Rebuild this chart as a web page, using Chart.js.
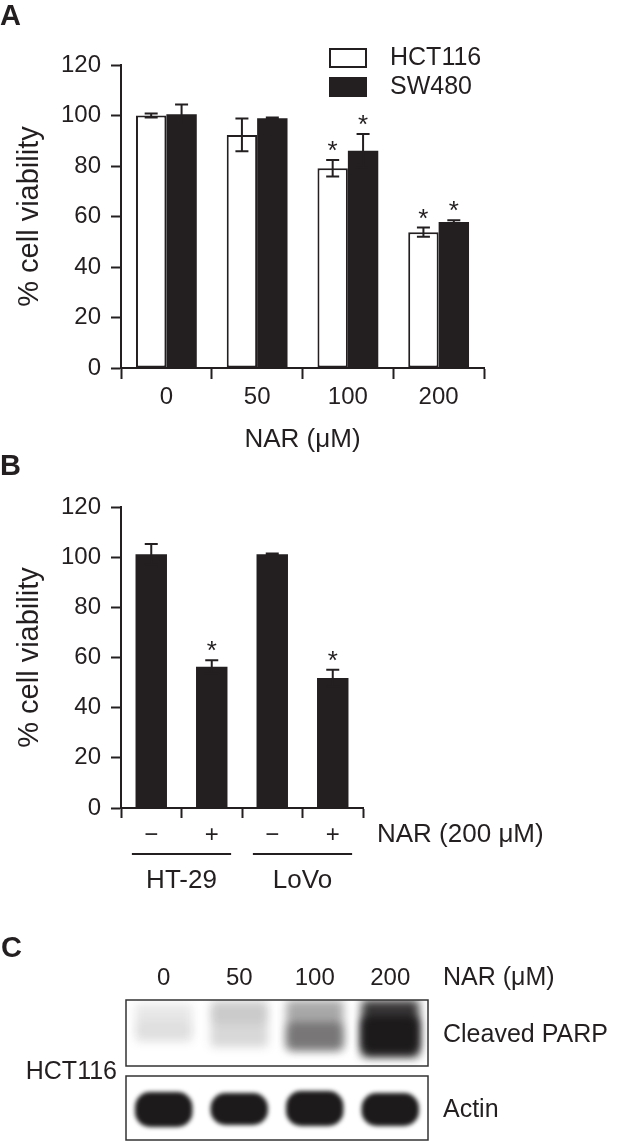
<!DOCTYPE html>
<html>
<head>
<meta charset="utf-8">
<script src="https://cdn.jsdelivr.net/npm/chart.js@4.4.0/dist/chart.umd.min.js"></script>
<style>
  body { margin: 0; background: #fff; }
  #page { position: relative; width: 618px; height: 1142px; overflow: hidden; font-family: "Liberation Sans", Arial, sans-serif; color: #231f20; }
  .panel { position: absolute; left: 0; width: 618px; }
  .tag { position: absolute; font-weight: bold; font-size: 29px; line-height: 1; }
</style>
</head>
<body>
<div id="page">
  <div class="panel" style="top:0; height:460px;"><canvas id="chartA"></canvas></div>
  <div class="panel" style="top:440px; height:460px;"><canvas id="chartB"></canvas></div>
  <div class="panel" style="top:940px; height:240px;"><canvas id="chartC"></canvas></div>
  <div class="tag" style="left:0; top:1px;">A</div>
  <div class="tag" style="left:0; top:451px;">B</div>
  <div class="tag" style="left:1px; top:933px;">C</div>
</div>
<script>
// panel A: viability vs naringenin dose
const doseLabels = ['0', '50', '100', '200'];
const hct116Viability = [100.0, 92.3, 79.1, 53.8];
const hct116Error = [0.8, 6.5, 3.3, 1.8];
const hct116Star = [false, false, true, true];
const sw480Viability = [100.5, 98.9, 86.0, 57.8];
const sw480Error = [3.9, 0.3, 6.7, 0.7];
const sw480Star = [false, false, true, true];
const viabilityTicks = [0, 20, 40, 60, 80, 100, 120];

// panel B: HT-29 / LoVo at 200 uM
const treatLabels = ['\u2212', '+', '\u2212', '+'];
const lineLabels = ['HT-29', 'LoVo'];
const lineViability = [101.2, 56.3, 101.2, 51.8];
const lineError = [4.0, 2.6, 0.3, 3.3];
const lineStar = [false, true, false, true];

// panel C: western blot lanes (band extents in migration units, density 0-1)
const laneLabels = ['0', '50', '100', '200'];
const blotNames = ['Cleaved PARP', 'Actin'];
const blotNameAt = [35, 110];
const parpSmear = [[4, 42], [0, 47], [0, 50], [0, 57]];
const parpSmearDensity = [0.1, 0.17, 0.38, 0.88];
const parpBand = [[20, 40], [4, 24], [22, 51], [16, 53]];
const parpBandDensity = [0.04, 0.07, 0.35, 1];
const actinBand = [[92, 127], [93, 125], [91, 126], [93, 126]];
const actinDensity = [1, 1, 1, 1];

const ink = '#231f20';
const fontFamily = '"Liberation Sans", Arial, sans-serif';
Chart.defaults.font.family = fontFamily;
Chart.defaults.color = ink;

const errorBarPlugin = {
  id: 'errorBars',
  afterDatasetsDraw(chart) {
    const ctx = chart.ctx;
    const y = chart.scales.y;
    ctx.save();
    ctx.strokeStyle = ink;
    ctx.fillStyle = ink;
    ctx.lineWidth = 2;
    ctx.font = '26px ' + fontFamily;
    ctx.textAlign = 'center';
    ctx.textBaseline = 'alphabetic';
    chart.data.datasets.forEach((ds, i) => {
      chart.getDatasetMeta(i).data.forEach((bar, j) => {
        const top = y.getPixelForValue(ds.data[j] + ds.errors[j]);
        const bot = y.getPixelForValue(ds.data[j] - ds.errors[j]);
        ctx.beginPath();
        ctx.moveTo(bar.x, top); ctx.lineTo(bar.x, bot);
        ctx.moveTo(bar.x - 6.5, top); ctx.lineTo(bar.x + 6.5, top);
        ctx.moveTo(bar.x - 6.5, bot); ctx.lineTo(bar.x + 6.5, bot);
        ctx.stroke();
        if (ds.stars[j]) ctx.fillText('*', bar.x, top - 1);
      });
    });
    ctx.restore();
  }
};

function viabilityAxis() {
  return {
    min: 0, max: 120,
    afterBuildTicks: s => { s.ticks = viabilityTicks.map(v => ({ value: v })); },
    afterFit: s => { s.width = 121; },
    grid: { drawOnChartArea: false, tickLength: 10, tickWidth: 2, tickColor: ink },
    border: { color: ink, width: 2 },
    ticks: { font: { size: 24 }, padding: 10, color: ink },
    title: { display: true, text: '% cell viability', font: { size: 29 }, padding: { top: 13, bottom: 0 }, color: ink }
  };
}

// ---- A ----
new Chart(document.getElementById('chartA'), {
  type: 'bar',
  data: {
    labels: doseLabels,
    datasets: [
      { label: 'HCT116', data: hct116Viability, errors: hct116Error, stars: hct116Star,
        backgroundColor: '#ffffff', borderColor: ink, borderWidth: 2, borderSkipped: false },
      { label: 'SW480', data: sw480Viability, errors: sw480Error, stars: sw480Star,
        backgroundColor: ink, borderColor: ink, borderWidth: 0 }
    ]
  },
  options: {
    responsive: true, maintainAspectRatio: false, animation: false,
    layout: { padding: { left: 0, top: 65, right: 134, bottom: 2 } },
    datasets: { bar: { categoryPercentage: 0.67, barPercentage: 1 } },
    plugins: {
      legend: { display: false }, tooltip: { enabled: false },
      boxLegend: { x: 329, top: 48, step: 29 }
    },
    scales: {
      x: {
        afterFit: s => { s.height = 90; },
        grid: { drawOnChartArea: false, tickLength: 11, tickWidth: 2, tickColor: ink },
        border: { color: ink, width: 2 },
        ticks: { font: { size: 24 }, padding: 4, color: ink },
        title: { display: true, text: 'NAR (\u03bcM)', font: { size: 26 }, padding: { top: 0, bottom: 3 }, color: ink }
      },
      y: viabilityAxis()
    }
  },
  plugins: [errorBarPlugin, {
    id: 'boxLegend',
    afterDraw(chart, args, opts) {
      const ctx = chart.ctx;
      ctx.save();
      chart.data.datasets.forEach((ds, i) => {
        const top = opts.top + i * opts.step;
        ctx.fillStyle = ds.backgroundColor;
        ctx.fillRect(opts.x, top, 38, 20);
        ctx.strokeStyle = ink; ctx.lineWidth = 2;
        ctx.strokeRect(opts.x + 1, top + 1, 36, 18);
        ctx.fillStyle = ink;
        ctx.font = '25px ' + fontFamily;
        ctx.textBaseline = 'middle';
        ctx.fillText(ds.label, opts.x + 61, top + 10);
      });
      ctx.restore();
    }
  }]
});

// ---- B ----
new Chart(document.getElementById('chartB'), {
  type: 'bar',
  data: {
    labels: treatLabels,
    datasets: [
      { label: 'viability', data: lineViability, errors: lineError, stars: lineStar,
        backgroundColor: ink, borderWidth: 0 }
    ]
  },
  options: {
    responsive: true, maintainAspectRatio: false, animation: false,
    layout: { padding: { left: 0, top: 67, right: 255, bottom: 2 } },
    datasets: { bar: { categoryPercentage: 1, barPercentage: 0.52 } },
    plugins: { legend: { display: false }, tooltip: { enabled: false } },
    scales: {
      x: {
        weight: 0,
        afterFit: s => { s.height = 40; },
        grid: { drawOnChartArea: false, tickLength: 10, tickWidth: 2, tickColor: ink },
        border: { color: ink, width: 2 },
        ticks: { font: { size: 24 }, padding: 3, color: ink }
      },
      x2: {
        type: 'category', position: 'bottom', weight: 1, offset: true,
        labels: lineLabels,
        afterFit: s => { s.height = 50; },
        grid: { display: false, drawTicks: false },
        border: { display: false },
        ticks: { font: { size: 26 }, padding: 17, color: ink }
      },
      y: viabilityAxis()
    }
  },
  plugins: [errorBarPlugin, {
    id: 'groupLines',
    afterDraw(chart) {
      const ctx = chart.ctx;
      const x = chart.scales.x, x2 = chart.scales.x2;
      const half = (x2.right - x2.left) / lineLabels.length * 0.41;
      ctx.save();
      ctx.strokeStyle = ink; ctx.lineWidth = 2;
      lineLabels.forEach((l, i) => {
        const cx = x2.getPixelForTick(i);
        ctx.beginPath();
        ctx.moveTo(cx - half, x2.top + 6); ctx.lineTo(cx + half, x2.top + 6);
        ctx.stroke();
      });
      ctx.fillStyle = ink;
      ctx.font = '26px ' + fontFamily;
      ctx.textBaseline = 'middle';
      ctx.fillText('NAR (200 \u03bcM)', x.right + 14, chart.chartArea.bottom + 27);
      ctx.restore();
    }
  }]
});

// ---- C ----
const shade = d => d.map(a => 'rgba(28,26,27,' + a + ')');
const blotFrames = [[0, 66], [76, 140]];
new Chart(document.getElementById('chartC'), {
  type: 'bar',
  data: {
    labels: laneLabels,
    datasets: [
      { label: 'PARP band', data: parpBand, backgroundColor: shade(parpBandDensity), blur: 4, borderRadius: 8 },
      { label: 'PARP smear', data: parpSmear, backgroundColor: shade(parpSmearDensity), blur: 5, borderRadius: 4 },
      { label: 'Actin', data: actinBand, backgroundColor: shade(actinDensity), blur: 2, borderRadius: 15 }
    ]
  },
  options: {
    responsive: true, maintainAspectRatio: false, animation: false,
    layout: { padding: { left: 0, top: 0, right: 0, bottom: 40 } },
    datasets: { bar: { categoryPercentage: 1, barPercentage: 0.76, grouped: false, borderSkipped: false, borderWidth: 0 } },
    plugins: { legend: { display: false }, tooltip: { enabled: false } },
    scales: {
      x: {
        position: 'top',
        afterFit: s => { s.height = 60; },
        grid: { display: false, drawTicks: false },
        border: { display: false },
        ticks: { font: { size: 24 }, padding: 7, color: ink }
      },
      y: {
        position: 'left', min: 0, max: 140, reverse: true,
        afterFit: s => { s.width = 126; },
        afterBuildTicks: s => { s.ticks = [{ value: 72 }]; },
        ticks: { callback: () => 'HCT116', font: { size: 25 }, padding: 9, color: ink },
        grid: { display: false, drawTicks: false },
        border: { display: false }
      },
      yR: {
        position: 'right', min: 0, max: 140, reverse: true,
        afterFit: s => { s.width = 190; },
        afterBuildTicks: s => { s.ticks = blotNameAt.map(v => ({ value: v })); },
        ticks: { callback: v => blotNames[blotNameAt.indexOf(v)], font: { size: 25 }, padding: 15, color: ink },
        grid: { display: false, drawTicks: false },
        border: { display: false }
      }
    }
  },
  plugins: [{
    id: 'blot',
    beforeDatasetDraw(chart, args) {
      chart.ctx.save();
      chart.ctx.filter = 'blur(' + chart.data.datasets[args.index].blur + 'px)';
    },
    afterDatasetDraw(chart) {
      chart.ctx.restore();
    },
    afterDatasetsDraw(chart) {
      const ctx = chart.ctx;
      const x = chart.scales.x, y = chart.scales.y;
      ctx.save();
      ctx.strokeStyle = '#333';
      ctx.lineWidth = 1.5;
      blotFrames.forEach(f => {
        const t = y.getPixelForValue(f[0]), b = y.getPixelForValue(f[1]);
        ctx.strokeRect(x.left, t, x.right - x.left, b - t);
      });
      ctx.fillStyle = ink;
      ctx.font = '25px ' + fontFamily;
      ctx.textBaseline = 'middle';
      ctx.fillText('NAR (\u03bcM)', x.right + 15, x.bottom - 22);
      ctx.restore();
    }
  }]
});
</script>
</body>
</html>
